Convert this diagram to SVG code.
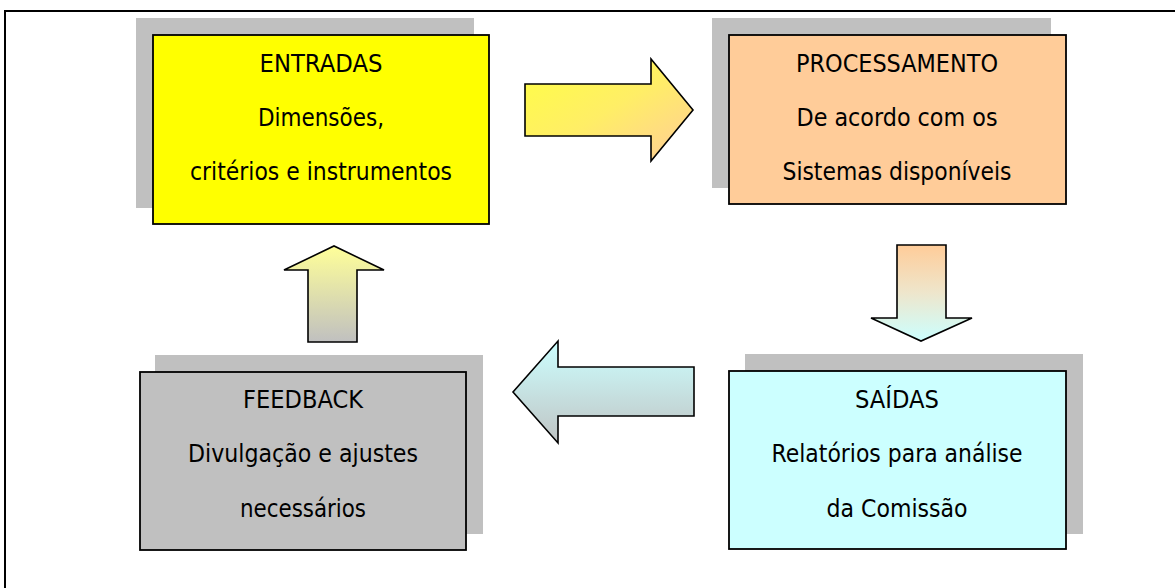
<svg xmlns="http://www.w3.org/2000/svg" width="1175" height="588" viewBox="0 0 1175 588">
<style>
.shadow{fill:#C0C0C0;stroke:none}
.box{stroke:#000;stroke-width:1.8}
.arrow{stroke:#000;stroke-width:1.6;stroke-linejoin:miter}
text{font-family:"DejaVu Sans","Liberation Sans",sans-serif;font-size:24px;fill:#000;text-anchor:middle}
</style>
<defs>
<linearGradient id="gRight" x1="0" y1="0" x2="1" y2="1">
<stop offset="0" stop-color="#FFFF44"/>
<stop offset="0.5" stop-color="#FFEE66"/>
<stop offset="1" stop-color="#FFCC99"/>
</linearGradient>
<linearGradient id="gDown" x1="0" y1="0" x2="0" y2="1">
<stop offset="0" stop-color="#FFCC99"/>
<stop offset="0.5" stop-color="#EEE6CC"/>
<stop offset="1" stop-color="#CCFFFF"/>
</linearGradient>
<linearGradient id="gLeft" x1="0" y1="0" x2="0" y2="1">
<stop offset="0" stop-color="#CCFFFF"/>
<stop offset="1" stop-color="#C0C4C4"/>
</linearGradient>
<linearGradient id="gUp" x1="0" y1="0" x2="0" y2="1">
<stop offset="0" stop-color="#FFFF99"/>
<stop offset="1" stop-color="#C0C0C0"/>
</linearGradient>
</defs>
<rect width="1175" height="588" fill="#fff"/>
<path d="M5,588 V11 H1175" fill="none" stroke="#000" stroke-width="2"/>

<g id="entradas">
<rect class="shadow" x="136" y="18" width="338" height="190"/>
<rect class="box" x="153" y="35" width="336" height="189" fill="#FFFF00"/>
<text x="321" y="72" textLength="123" lengthAdjust="spacingAndGlyphs">ENTRADAS</text>
<text x="321" y="126" textLength="126" lengthAdjust="spacingAndGlyphs">Dimensões,</text>
<text x="321" y="180" textLength="262" lengthAdjust="spacingAndGlyphs">critérios e instrumentos</text>
</g>

<g id="processamento">
<rect class="shadow" x="712" y="18" width="339" height="170"/>
<rect class="box" x="729" y="35" width="337" height="169" fill="#FFCC99"/>
<text x="897" y="72" textLength="202" lengthAdjust="spacingAndGlyphs">PROCESSAMENTO</text>
<text x="897" y="126" textLength="201" lengthAdjust="spacingAndGlyphs">De acordo com os</text>
<text x="897" y="180" textLength="229" lengthAdjust="spacingAndGlyphs">Sistemas disponíveis</text>
</g>

<g id="saidas">
<rect class="shadow" x="745" y="354" width="338" height="180"/>
<rect class="box" x="729" y="371" width="337" height="178" fill="#CCFFFF"/>
<text x="897" y="408" textLength="84" lengthAdjust="spacingAndGlyphs">SAÍDAS</text>
<text x="897" y="462" textLength="251" lengthAdjust="spacingAndGlyphs">Relatórios para análise</text>
<text x="897" y="517" textLength="141" lengthAdjust="spacingAndGlyphs">da Comissão</text>
</g>

<g id="feedback">
<rect class="shadow" x="155" y="355" width="328" height="179"/>
<rect class="box" x="140" y="372" width="326" height="178" fill="#C0C0C0"/>
<text x="303" y="408" textLength="120" lengthAdjust="spacingAndGlyphs">FEEDBACK</text>
<text x="303" y="462" textLength="230" lengthAdjust="spacingAndGlyphs">Divulgação e ajustes</text>
<text x="303" y="517" textLength="126" lengthAdjust="spacingAndGlyphs">necessários</text>
</g>

<g id="connectors">
<path class="arrow" fill="url(#gRight)" d="M525,84 H651 V59 L693,110 L651,161 V136 H525 Z"/>
<path class="arrow" fill="url(#gDown)" d="M897,245 H946 V318 H972 L921,341 L871,318 H897 Z"/>
<path class="arrow" fill="url(#gLeft)" d="M694,367 V416 H558 V443 L513,392 L558,341 V367 Z"/>
<path class="arrow" fill="url(#gUp)" d="M308,342 V270 H284 L334,246 L384,270 H357 V342 Z"/>
</g>
</svg>
